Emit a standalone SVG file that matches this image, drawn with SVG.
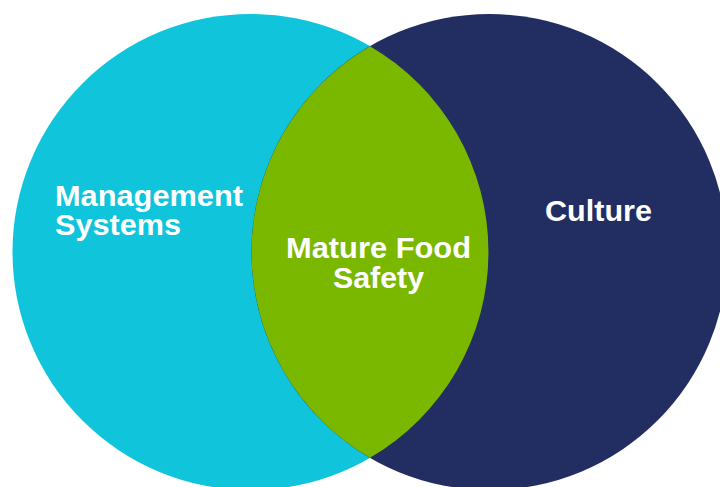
<svg xmlns="http://www.w3.org/2000/svg" width="720" height="487" viewBox="0 0 720 487">
<style>
.lbl{font-family:"Liberation Sans",Arial,sans-serif;font-weight:bold;font-size:29px;fill:#ffffff}
</style>
<rect width="720" height="487" fill="#ffffff"/>
<g id="management-systems">
<circle cx="250.5" cy="252" r="238" fill="#0FC4DB"/>
<text class="lbl" x="55" y="206" textLength="188" lengthAdjust="spacingAndGlyphs">Management</text>
<text class="lbl" x="55" y="235" textLength="126" lengthAdjust="spacingAndGlyphs">Systems</text>
</g>
<g id="culture">
<circle cx="489.5" cy="252" r="238" fill="#222E61"/>
<text class="lbl" x="545" y="221" textLength="107" lengthAdjust="spacingAndGlyphs">Culture</text>
</g>
<g id="mature-food-safety">
<path d="M370 46.2 A238 238 0 0 1 370 457.8 A238 238 0 0 1 370 46.2 Z" fill="#7AB800"/>
<text class="lbl" x="286" y="258" textLength="185" lengthAdjust="spacingAndGlyphs">Mature Food</text>
<text class="lbl" x="333" y="288" textLength="91" lengthAdjust="spacingAndGlyphs">Safety</text>
</g>
</svg>
